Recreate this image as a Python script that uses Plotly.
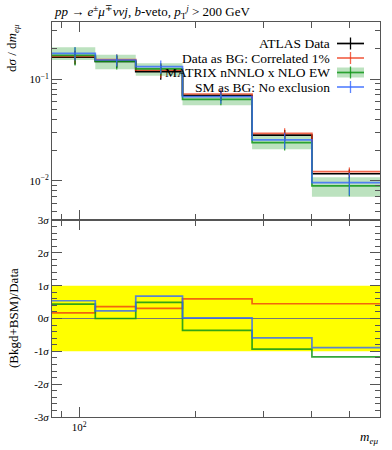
import plotly.graph_objects as go

# ---------------- data ----------------
edges = [85, 110, 140, 185, 280, 400, 600]
centers = [97.5, 125, 162.5, 232.5, 340, 500]

data_vals = [0.165, 0.150, 0.119, 0.0692, 0.0281, 0.0117]
data_err = [0.025, 0.020, 0.020, 0.0080, 0.0035, 0.0012]

red_vals = [0.168, 0.156, 0.1227, 0.0716, 0.0293, 0.0123]
red_err = [0.025, 0.020, 0.020, 0.0080, 0.0035, 0.0012]

green_vals = [0.172, 0.150, 0.1264, 0.0635, 0.0237, 0.0089]
green_lo = [0.155, 0.1256, 0.1085, 0.0555, 0.0204, 0.00695]
green_hi = [0.207, 0.175, 0.144, 0.0715, 0.0276, 0.0108]

blue_vals = [0.1805, 0.155, 0.133, 0.0673, 0.0252, 0.00955]
blue_err = [0.027, 0.021, 0.020, 0.010, 0.0045, 0.0024]

red_sig = [0.17, 0.36, 0.31, 0.60, 0.45, 0.45]
green_sig = [0.44, 0.00, 0.49, -0.36, -0.93, -1.17]
blue_sig = [0.54, 0.23, 0.68, 0.02, -0.59, -0.89]

band_sig = [-1, 1]

legend_labels = ["ATLAS Data", "Data as BG: Correlated 1%",
                 "MATRIX nNNLO x NLO EW", "SM as BG: No exclusion"]

RED = "rgba(238,51,17,0.75)"
GREEN = "rgba(16,150,24,0.85)"
BLUE = "rgba(51,102,255,0.8)"
BLACK = "black"
GREEN_FILL = "rgba(16,150,24,0.28)"

FONT = "Liberation Serif"


def step(vals):
    return list(vals) + [vals[-1]]


fig = go.Figure()

# ---- top panel ----
fig.add_trace(go.Scatter(x=edges, y=step(green_lo), mode="lines", line=dict(width=0, shape="hv"),
                         xaxis="x", yaxis="y", hoverinfo="skip"))
fig.add_trace(go.Scatter(x=edges, y=step(green_hi), mode="lines", line=dict(width=0, shape="hv"),
                         fill="tonexty", fillcolor=GREEN_FILL, xaxis="x", yaxis="y", hoverinfo="skip"))

series = [
    (data_vals, data_err, BLACK),
    (red_vals, red_err, RED),
    (green_vals, [h - v for h, v in zip(green_hi, green_vals)], GREEN),
    (blue_vals, blue_err, BLUE),
]
for vals, errs, col in series:
    fig.add_trace(go.Scatter(x=edges, y=step(vals), mode="lines",
                             line=dict(color=col, width=1.7, shape="hv"),
                             xaxis="x", yaxis="y"))
    fig.add_trace(go.Scatter(x=centers, y=vals, mode="markers",
                             marker=dict(size=1, color=col, opacity=0),
                             error_y=dict(type="data", array=errs, color=col, thickness=1.3, width=0),
                             xaxis="x", yaxis="y"))

# ---- bottom panel ----
fig.add_trace(go.Scatter(x=[edges[0], edges[-1]], y=[band_sig[0], band_sig[0]], mode="lines",
                         line=dict(width=0), xaxis="x2", yaxis="y2", hoverinfo="skip"))
fig.add_trace(go.Scatter(x=[edges[0], edges[-1]], y=[band_sig[1], band_sig[1]], mode="lines",
                         line=dict(width=0), fill="tonexty", fillcolor="#FFFF00",
                         xaxis="x2", yaxis="y2", hoverinfo="skip"))
fig.add_trace(go.Scatter(x=[edges[0], edges[-1]], y=[0, 0], mode="lines",
                         line=dict(color="#777777", width=1), xaxis="x2", yaxis="y2"))
for vals, col in [(red_sig, RED), (green_sig, GREEN), (blue_sig, BLUE)]:
    fig.add_trace(go.Scatter(x=edges, y=step(vals), mode="lines",
                             line=dict(color=col, width=1.7, shape="hv"),
                             xaxis="x2", yaxis="y2"))

# ---------------- layout ----------------
W, H = 392, 450
ML, MR, MT, MB = 52, 12, 22, 33
PW, PH = W - ML - MR, H - MT - MB
split = (417 - 220) / PH

axcol = "#555555"
xcommon = dict(type="log", range=[2 + (-0.0706), 2.7782], showgrid=False, zeroline=False,
               showline=True, linecolor=axcol, linewidth=1, mirror="allticks",
               ticks="inside", ticklen=10, tickcolor=axcol,
               tickvals=[100],
               minor=dict(tickvals=[90, 200, 300, 400, 500], ticks="inside", ticklen=6, tickcolor=axcol))

top_minor = [0.005, 0.006, 0.007, 0.008, 0.009, 0.02, 0.03, 0.04, 0.05, 0.06, 0.07, 0.08, 0.09, 0.2, 0.3]
bot_minor = [round(-3 + 0.2 * i, 2) for i in range(31) if abs((-3 + 0.2 * i) - round(-3 + 0.2 * i)) > 1e-6]

fig.update_layout(
    width=W, height=H,
    margin=dict(l=ML, r=MR, t=MT, b=MB),
    paper_bgcolor="white", plot_bgcolor="white",
    showlegend=False,
    font=dict(family=FONT, size=12, color="black"),
    xaxis=dict(xcommon, anchor="y", showticklabels=False, domain=[0, 1]),
    xaxis2=dict(xcommon, anchor="y2", matches="x", showticklabels=True,
                ticktext=["10<sup>2</sup>"], tickfont=dict(size=11)),
    yaxis=dict(type="log", domain=[split, 1], range=[-2.388, -0.435], anchor="x",
               showgrid=False, zeroline=False, showline=True, linecolor=axcol, mirror="allticks",
               ticks="inside", ticklen=10, tickcolor=axcol,
               tickvals=[0.01, 0.1], ticktext=["10<sup>−2</sup>", "10<sup>−1</sup>"],
               tickfont=dict(size=11),
               minor=dict(tickvals=top_minor, ticks="inside", ticklen=5, tickcolor=axcol)),
    yaxis2=dict(domain=[0, split], range=[-3, 3], anchor="x2",
                showgrid=False, zeroline=False, showline=True, linecolor=axcol, mirror="allticks",
                ticks="inside", ticklen=10, tickcolor=axcol,
                tickvals=[-3, -2, -1, 0, 1, 2, 3],
                ticktext=["-3<i>σ</i>", "-2<i>σ</i>", "-1<i>σ</i>", "0<i>σ</i>", "1<i>σ</i>", "2<i>σ</i>", "3<i>σ</i>"],
                tickfont=dict(size=11),
                minor=dict(tickvals=bot_minor, ticks="inside", ticklen=5, tickcolor=axcol)),
)


def px_x(x):
    return (x - ML) / PW


def px_y(y):
    return (MT + PH - y) / PH


ann = []
ann.append(dict(text="<i>pp</i> → <i>e</i><sup>±</sup><i>μ</i><sup>∓</sup><i>ννj</i>, <i>b</i>-veto, "
                     "<i>p</i><sub>T</sub><sup><i>j</i></sup> > 200 GeV",
                x=px_x(52), y=px_y(12), xref="paper", yref="paper", xanchor="left", yanchor="middle",
                showarrow=False, font=dict(size=13)))
ann.append(dict(text="d<i>σ</i> / d<i>m</i><sub><i>eμ</i></sub>", textangle=-90,
                x=px_x(12), y=px_y(22), xref="paper", yref="paper", xanchor="center", yanchor="top",
                showarrow=False, font=dict(size=13)))
ann.append(dict(text="(Bkgd+BSM)/Data", textangle=-90,
                x=px_x(13), y=px_y(318), xref="paper", yref="paper", xanchor="center", yanchor="middle",
                showarrow=False, font=dict(size=13)))
ann.append(dict(text="<i>m</i><sub><i>eμ</i></sub>",
                x=px_x(380), y=px_y(437), xref="paper", yref="paper", xanchor="right", yanchor="middle",
                showarrow=False, font=dict(size=13)))

rows_y = [43.5, 58, 72.5, 87]
leg_cols = [BLACK, RED, GREEN, BLUE]
shapes = []
for lab, yy, col in zip(legend_labels, rows_y, leg_cols):
    ann.append(dict(text=lab, x=px_x(332), y=px_y(yy), xref="paper", yref="paper",
                    xanchor="right", yanchor="middle", showarrow=False, font=dict(size=13.5)))
    if col == GREEN:
        shapes.append(dict(type="rect", xref="paper", yref="paper", x0=px_x(337), x1=px_x(364),
                           y0=px_y(yy + 5), y1=px_y(yy - 5), fillcolor=GREEN_FILL, line=dict(width=0)))
    shapes.append(dict(type="line", xref="paper", yref="paper", x0=px_x(337), x1=px_x(364),
                       y0=px_y(yy), y1=px_y(yy), line=dict(color=col, width=1.7)))
    shapes.append(dict(type="line", xref="paper", yref="paper", x0=px_x(350.5), x1=px_x(350.5),
                       y0=px_y(yy + 6), y1=px_y(yy - 6), line=dict(color=col, width=1.3)))

fig.update_layout(annotations=ann, shapes=shapes)

fig.write_html("out.html", config={"displayModeBar": False},
               post_script="document.body.style.margin='0';document.body.style.padding='0';")
